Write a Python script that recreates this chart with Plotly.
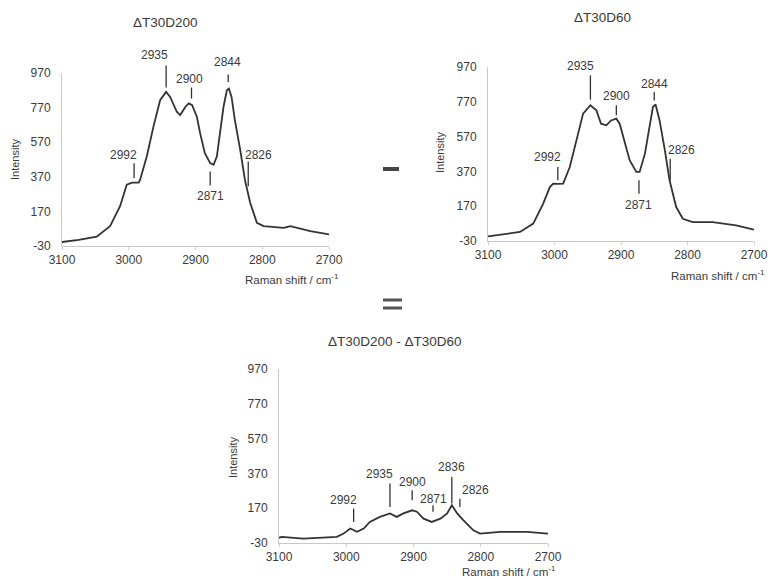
import plotly.graph_objects as go

# ---- data ----
x1 = [3100, 3075, 3048, 3028, 3013, 3003, 2995, 2985, 2983, 2973, 2963, 2953, 2944, 2938, 2928, 2923,
      2915, 2910, 2905, 2898, 2893, 2886, 2878, 2873, 2868, 2863, 2858, 2853, 2850, 2846, 2841, 2833,
      2826, 2818, 2808, 2798, 2768, 2758, 2728, 2700]
y1 = [-7, 5, 24, 85, 200, 324, 336, 336, 353, 487, 660, 813, 861, 832, 746, 727,
      775, 794, 784, 717, 621, 506, 449, 439, 487, 621, 775, 870, 880, 832, 698, 526,
      353, 219, 104, 85, 75, 85, 56, 37]

x2 = [3100, 3052, 3032, 3017, 3007, 3002, 2995, 2987, 2977, 2967, 2957, 2946, 2937, 2930, 2922,
      2915, 2907, 2902, 2895, 2887, 2877, 2872, 2864, 2857, 2852, 2848, 2842, 2834, 2827, 2817,
      2807, 2792, 2762, 2727, 2700]
y2 = [-3, 22, 70, 185, 280, 300, 298, 300, 395, 549, 702, 750, 721, 644, 635,
      663, 673, 644, 549, 434, 367, 367, 472, 644, 740, 755, 663, 491, 319, 165,
      98, 79, 79, 60, 35]

x3 = [3100, 3096, 3064, 3014, 3004, 2994, 2984, 2974, 2965, 2950, 2935, 2925, 2915, 2902, 2895,
      2885, 2873, 2860, 2850, 2843, 2835, 2826, 2811, 2801, 2771, 2731, 2700]
y3 = [0, 5, -5, 5, 24, 53, 34, 53, 91, 120, 140, 120, 140, 158, 150,
      110, 91, 110, 140, 187, 140, 101, 43, 24, 34, 34, 24]

titles = ["\u0394T30D200", "\u0394T30D60", "\u0394T30D200 - \u0394T30D60"]
y_ticks = [-30, 170, 370, 570, 770, 970]
y_tick_text = ["-30", "170", "370", "570", "770", "970"]
x_ticks = [3100, 3000, 2900, 2800, 2700]

# peak labels: (text, text_x, text_y, tick_x, tick_y0, tick_y1)
peaks1 = [("2992", 3008, 497, 2992, 449, 363), ("2935", 2961, 1075, 2944, 1014, 886),
          ("2900", 2909, 937, 2906, 886, 822), ("2844", 2852, 1033, 2851, 962, 918),
          ("2826", 2806, 497, 2821, 458, 315), ("2871", 2878, 257, 2878, 401, 319)]
peaks2 = [("2992", 3010, 453, 2995, 395, 319), ("2935", 2961, 975, 2946, 922, 782),
          ("2900", 2907, 801, 2907, 750, 692), ("2844", 2849, 874, 2850, 826, 778),
          ("2826", 2809, 495, 2826, 443, 319), ("2871", 2873, 175, 2873, 319, 242)]
peaks3 = [("2992", 3004, 216, 2989, 168, 91), ("2935", 2951, 365, 2935, 312, 177),
          ("2900", 2902, 321, 2902, 273, 216), ("2871", 2871, 221, 2871, 187, 149),
          ("2836", 2843, 408, 2843, 350, 197), ("2826", 2808, 277, 2831, 225, 177)]

W, H = 768, 579
def px(x): return x / W
def py(y): return (H - y) / H

XR = (3100, 2700)
YR = (-30, 970)
# domains (pixels): (left, right, top, bottom)
boxes = [(62, 329, 73, 246), (488, 754, 67, 241), (279, 548, 369, 543)]

def to_paper(box, xv, yv):
    l, r, t, b = box
    fx = (xv - XR[0]) / (XR[1] - XR[0])
    fy = (yv - YR[0]) / (YR[1] - YR[0])
    return px(l + fx * (r - l)), py(b - fy * (b - t))

fig = go.Figure()
FONT = "Liberation Sans, Arial, sans-serif"
TXT = "#3a3a3a"
LINE = "#333333"

series = [(x1, y1), (x2, y2), (x3, y3)]
peak_sets = [peaks1, peaks2, peaks3]
title_pos = [(165, 23), (602, 17), (395, 341)]
xtitle_pos = [(341, 279), (767, 275), (558, 571)]
ytitle_pos = [(15, 160), (440, 153), (233, 458)]

def ann(x, y, text, size=12, xanchor="center", angle=0):
    return dict(x=x, y=y, xref="paper", yref="paper", text=text, showarrow=False,
                xanchor=xanchor, yanchor="middle", textangle=angle,
                font=dict(family=FONT, size=size, color=TXT))

annotations = []
shapes = []
for i, ((xs, ys), box) in enumerate(zip(series, boxes)):
    l, r, t, b = box
    n = "" if i == 0 else str(i + 1)
    fig.add_trace(go.Scatter(x=xs, y=ys, mode="lines", line=dict(color=LINE, width=1.8),
                             xaxis="x" + n, yaxis="y" + n, showlegend=False, hoverinfo="skip"))
    fig.layout["xaxis" + n] = dict(domain=[px(l), px(r)], range=list(XR), tickvals=x_ticks,
                                   showgrid=False, zeroline=False, showline=True, linecolor="#c8c8c8",
                                   linewidth=1, ticks="outside", ticklen=3, tickcolor="#d0d0d0",
                                   tickfont=dict(family=FONT, size=12, color=TXT),
                                   anchor="y" + n, fixedrange=True, automargin=False)
    fig.layout["yaxis" + n] = dict(domain=[py(b), py(t)], range=list(YR), tickvals=y_ticks,
                                   ticktext=y_tick_text,
                                   showgrid=False, zeroline=False, showline=True, linecolor="#c8c8c8",
                                   linewidth=1, ticks="", ticklabelstandoff=8,
                                   tickfont=dict(family=FONT, size=12, color=TXT),
                                   anchor="x" + n, fixedrange=True, automargin=False)
    for (txt, tx, ty, kx, k0, k1) in peak_sets[i]:
        ax_, ay_ = to_paper(box, tx, ty)
        annotations.append(ann(ax_, ay_, txt))
        sx, sy0 = to_paper(box, kx, k0)
        _, sy1 = to_paper(box, kx, k1)
        shapes.append(dict(type="line", xref="paper", yref="paper", x0=sx, x1=sx, y0=sy0, y1=sy1,
                           line=dict(color=LINE, width=1.3)))
    tx, ty = title_pos[i]
    annotations.append(ann(px(tx), py(ty), titles[i], size=13.5))
    ax, ay = xtitle_pos[i]
    annotations.append(ann(px(ax), py(ay), "Raman shift / cm<sup>-1</sup>", size=11.5, xanchor="right"))
    yx, yy = ytitle_pos[i]
    annotations.append(ann(px(yx), py(yy), "Intensity", size=11, angle=-90))

# minus and equals signs between panels
shapes.append(dict(type="line", xref="paper", yref="paper", x0=px(383), x1=px(399), y0=py(169), y1=py(169),
                   line=dict(color="#444444", width=4)))
for yy in (300, 308):
    shapes.append(dict(type="line", xref="paper", yref="paper", x0=px(383), x1=px(402), y0=py(yy), y1=py(yy),
                       line=dict(color="#555555", width=3)))

fig.update_layout(width=W, height=H, margin=dict(l=0, r=0, t=0, b=0, autoexpand=False),
                  paper_bgcolor="white", plot_bgcolor="white",
                  annotations=annotations, shapes=shapes)

fig.write_html("out.html")
